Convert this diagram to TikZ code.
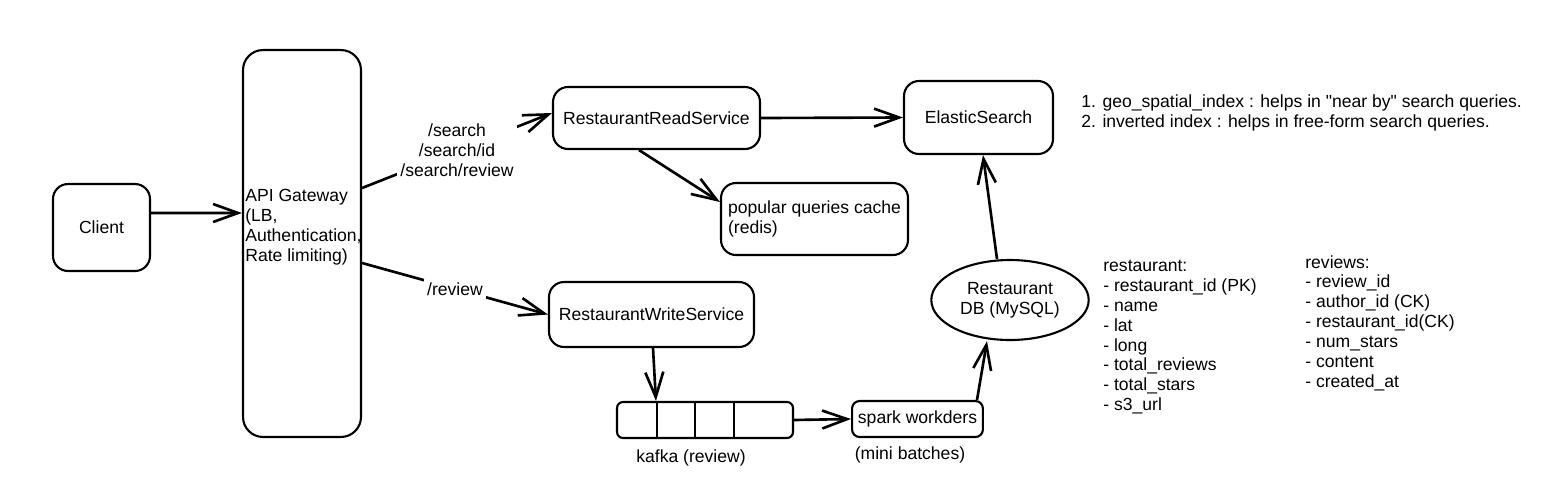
\documentclass[tikz,border=0pt]{standalone}
\usepackage{fontspec}
\setmainfont{Liberation Sans}
\usetikzlibrary{arrows.meta, positioning, shapes.geometric}

\begin{document}
\begin{tikzpicture}[x=0.02cm, y=-0.02cm,
        font=\fontsize{10}{11.3}\selectfont,
        box/.style={draw, line width=1.2pt, rounded corners=0.3cm, minimum width=#1},
        arr/.style={line width=1.5pt, -{Straight Barb[length=5mm, width=3.6mm]}},
        tag/.style={fill=white, inner sep=2pt, align=center},
        list/.style={anchor=north west, align=left, inner sep=0pt}]
    \useasboundingbox (0,0) rectangle (1542,484);
    \node[box=1.94cm, minimum height=1.74cm] (client) at (101.5,227.5) {Client};
    \node[box=2.36cm, minimum height=7.74cm, rounded corners=0.4cm] (gw) at (302,243.5) {};
    \node[anchor=west, align=left, inner sep=0pt] (gwtext) at (245,227) {API Gateway\\(LB,\\Authentication,\\Rate limiting)};
    \node[box=4.14cm, minimum height=1.24cm] (read) at (656.5,118) {RestaurantReadService};
    \node[box=2.98cm, minimum height=1.46cm] (elastic) at (978.5,117.5) {ElasticSearch};
    \node[box=3.74cm, minimum height=1.44cm, align=left] (cache) at (814.5,219) {popular queries cache\\(redis)};
    \node[box=4.1cm, minimum height=1.3cm] (write) at (651.5,314.5) {RestaurantWriteService};
    \node[box=3.52cm, minimum height=0.72cm, rounded corners=0.12cm] (kafka) at (705,420) {};
    \foreach \d in {41,79,118}
        \draw[line width=1.2pt] ([xshift=\d*0.02cm]kafka.south west) -- ([xshift=\d*0.02cm]kafka.north west);
    \node[box=2.58cm, minimum height=0.72cm, rounded corners=0.15cm] (spark) at (917.5,419) {spark workders};
    \node[draw, ellipse, line width=1.2pt, minimum width=3.08cm, minimum height=1.6cm, align=center] (db) at (1010,300) {Restaurant\\DB (MySQL)};

    \node (kafkatag) at (691,458) {kafka (review)};
    \node (sparktag) at (910,455) {(mini batches)};
    \node[anchor=west, align=left, inner sep=0pt] (notes) at (1081,113) {1. geo\_spatial\_index : helps in \textquotedbl near by\textquotedbl\ search queries.\\2. inverted index : helps in free-form search queries.};
    \node[list] (resttable) at (1103,260) {restaurant:\\- restaurant\_id (PK)\\- name\\- lat\\- long\\- total\_reviews\\- total\_stars\\- s3\_url};
    \node[list] (revtable) at (1305,255) {reviews:\\- review\_id\\- author\_id (CK)\\- restaurant\_id(CK)\\- num\_stars\\- content\\- created\_at};

    \draw[arr] ([yshift=0.29cm]client.east) -- ([yshift=0.61cm]gw.west);
    \draw[arr] ([yshift=1.11cm]gw.east) -- node[tag] (searchtag) {/search\\/search/id\\/search/review} ([yshift=0.1cm]read.west);
    \draw[arr] ([yshift=-0.39cm]gw.east) -- node[tag] (reviewtag) {/review} (write.west);
    \draw[arr] ([xshift=-0.35cm]read.south) -- ([yshift=0.34cm]cache.west);
    \draw[arr] (read.east) -- (elastic.west);
    \draw[arr] ([xshift=-0.26cm]db.north) -- ([xshift=0.09cm]elastic.south);
    \draw[arr] ([xshift=0.03cm]write.south) -- ([xshift=0.8cm]kafka.north west);
    \draw[arr] (kafka.east) -- (spark.west);
    \draw[arr] ([xshift=1.19cm]spark.north) -- ([xshift=-0.46cm]db.south);
\end{tikzpicture}
\end{document}
